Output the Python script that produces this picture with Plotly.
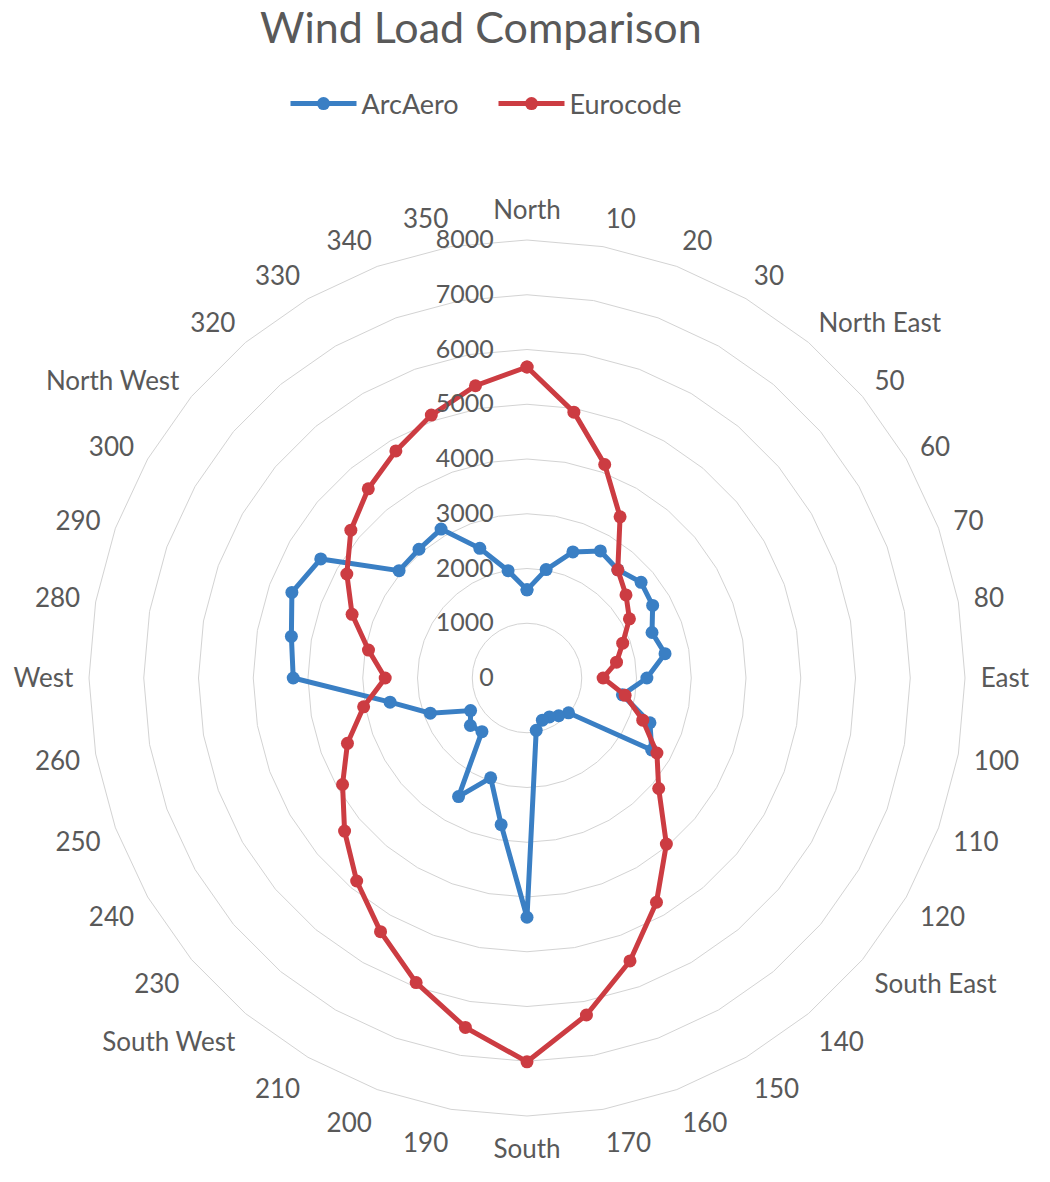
import plotly.graph_objects as go

# Wind direction categories, clockwise from North in 10 degree steps
directions = [
    "North", "10", "20", "30", "North East", "50", "60", "70", "80",
    "East", "100", "110", "120", "South East", "140", "150", "160", "170",
    "South", "190", "200", "210", "South West", "230", "240", "250", "260",
    "West", "280", "290", "300", "North West", "320", "330", "340", "350",
]

arcaero = [
    1610, 2010, 2450, 2680, 2580, 2720, 2650, 2430, 2560,
    2190, 1770, 2390, 2630, 990, 900, 820, 820, 970,
    4370, 2720, 1940, 2500, 1280, 1350, 1190, 1880, 2540,
    4270, 4370, 4570, 4350, 3050, 3070, 3140, 2520, 1990,
]

eurocode = [
    5680, 4930, 4150, 3400, 2580, 2360, 2160, 1860, 1660,
    1390, 1820, 2250, 2740, 3140, 3960, 4730, 5500, 6250,
    7010, 6480, 5920, 5350, 4840, 4350, 3890, 3490, 3030,
    2590, 2940, 3400, 3800, 4200, 4510, 4790, 5110, 5420,
]

radial_ticks = [0, 1000, 2000, 3000, 4000, 5000, 6000, 7000, 8000]

FONT = "Lato"
TEXT = "#595959"
GRID = "#d3d3d3"
INVISIBLE = "rgba(0,0,0,0)"

fig = go.Figure()

for name, values, color in [
    ("ArcAero", arcaero, "#3A7FC4"),
    ("Eurocode", eurocode, "#CC3C42"),
]:
    # repeat the first point so the radar outline closes
    fig.add_trace(go.Scatterpolar(
        r=values + values[:1],
        theta=directions + directions[:1],
        mode="lines+markers",
        name=name,
        line=dict(color=color, width=5),
        marker=dict(color=color, size=13),
    ))

fig.update_layout(
    width=1050,
    height=1182,
    margin=dict(l=0, r=0, t=0, b=0),
    paper_bgcolor="white",
    plot_bgcolor="white",
    font=dict(family=FONT, color=TEXT, size=26),
    title=dict(
        text="Wind Load Comparison",
        x=0.458, xanchor="center",
        y=1 - 28 / 1182, yanchor="middle",
        yref="container",
        font=dict(family=FONT, size=43, color=TEXT),
    ),
    legend=dict(
        orientation="h",
        x=0.47, xanchor="center",
        y=1 - 104 / 1182, yanchor="middle",
        itemwidth=66,
        entrywidth=127,
        font=dict(family=FONT, size=27, color=TEXT),
    ),
    polar=dict(
        domain=dict(x=[89 / 1050, 965 / 1050], y=[66 / 1182, 942 / 1182]),
        bgcolor="white",
        gridshape="linear",
        radialaxis=dict(
            range=[0, 8000],
            tickvals=radial_ticks,
            angle=90,
            tickangle=90,
            side="counterclockwise",
            showline=False,
            showgrid=True,
            gridcolor=GRID,
            gridwidth=1,
            ticks="outside",
            ticklen=24,
            tickcolor=INVISIBLE,
            tickfont=dict(family=FONT, size=25, color=TEXT),
        ),
        angularaxis=dict(
            type="category",
            categoryarray=directions,
            rotation=90,
            direction="clockwise",
            showgrid=False,
            showline=True,
            linecolor=GRID,
            linewidth=1,
            ticks="outside",
            ticklen=10,
            tickcolor=INVISIBLE,
            tickfont=dict(family=FONT, size=26, color=TEXT),
        ),
    ),
)

fig.write_html("out.html")
